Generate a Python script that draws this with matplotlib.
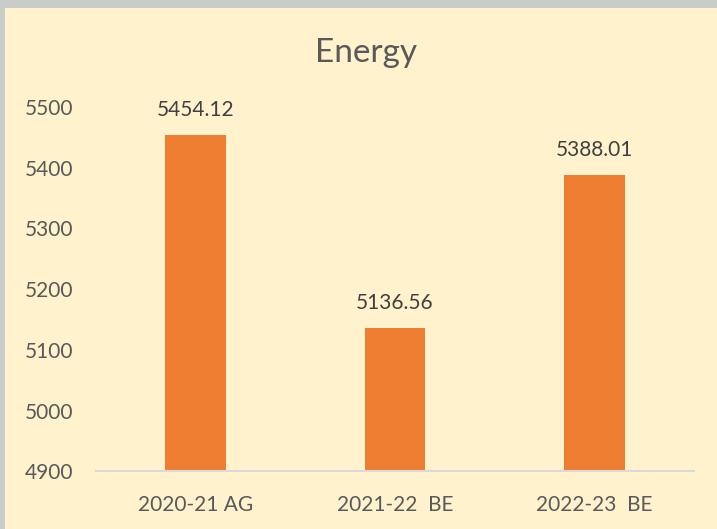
import matplotlib.pyplot as plt
from matplotlib.patches import Rectangle

categories = ["2020-21 AG", "2021-22  BE", "2022-23  BE"]
values = [5454.12, 5136.56, 5388.01]
labels = ["5454.12", "5136.56", "5388.01"]
yticks = [4900, 5000, 5100, 5200, 5300, 5400, 5500]

plt.rcParams['font.family'] = ['Lato', 'DejaVu Sans']
txt = '#595959'

fig = plt.figure(figsize=(7.17, 5.29), dpi=100)
fig.patch.set_facecolor('#c8cdca')
# chart panel
panel = Rectangle((5 / 717, 0), 1, (529 - 8) / 529, transform=fig.transFigure,
                  facecolor='#FFF2CC', edgecolor='none', zorder=-5)
fig.add_artist(panel)

ax = fig.add_axes([96 / 717, (529 - 471.4) / 529, 598 / 717, 364.4 / 529])
ax.set_zorder(2)
ax.set_facecolor('none')
x = range(len(categories))
ax.bar(x, values, width=0.306, color='#ED7D31', zorder=2)
ax.set_xlim(-0.5, 2.5)
ax.set_ylim(4900, 5500)
ax.set_yticks(yticks)
ax.set_xticks(list(x))
ax.set_xticklabels(categories)
ax.tick_params(axis='both', length=0, colors=txt, labelsize=15)
ax.tick_params(axis='x', pad=17)
ax.tick_params(axis='y', pad=16.5)
for s in ['top', 'right', 'left']:
    ax.spines[s].set_visible(False)
ax.spines['bottom'].set_color('#D9D9D9')
ax.spines['bottom'].set_linewidth(1.5)

for i, v in enumerate(values):
    ax.annotate(labels[i], (i, v), xytext=(0, 18), textcoords='offset points',
                ha='center', va='center', color='#404040', fontsize=15, clip_on=False)

fig.text(366 / 717, 1 - 53 / 529, "Energy", ha='center', va='center', color=txt, fontsize=24)

fig.savefig('out.png', dpi=100, facecolor=fig.get_facecolor())
